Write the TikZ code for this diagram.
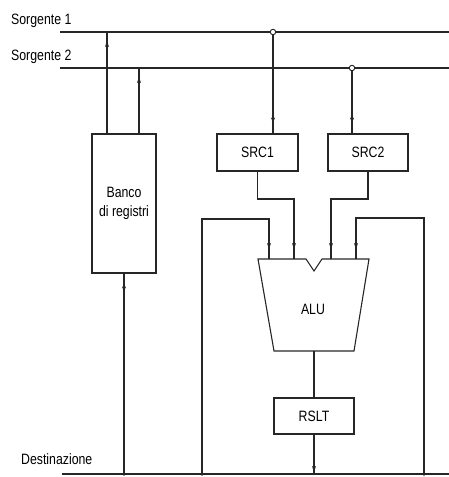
\documentclass[tikz,border=0pt]{standalone}
\usepackage{fontspec}
\setmainfont{Liberation Sans}[FakeStretch=0.82]
\usetikzlibrary{arrows.meta,decorations.markings}
\begin{document}
\begin{tikzpicture}[x=1pt,y=-1pt,
  ln/.style={draw=black!85,line width=1.1pt},
  box/.style={ln,rectangle,inner sep=0pt,align=center,font=\fontsize{15}{19}\selectfont},
  lbl/.style={inner sep=0pt,font=\fontsize{15}{18}\selectfont,anchor=west},
  arrat/.style={postaction={decorate},decoration={markings,mark=at position #1 with {\arrow{Stealth[length=6pt,width=4pt]}}}},
  hollow/.style={ln,fill=white,circle,inner sep=0pt,minimum size=5.5pt,line width=0.9pt},
  joint/.style={fill=black!85,circle,inner sep=0pt,minimum size=3.5pt}]
\useasboundingbox (0,0) rectangle (449,477);

% labels
\node[lbl] (t1) at (11,21) {Sorgente 1};
\node[lbl] (t2) at (11,57) {Sorgente 2};
\node[lbl] (t3) at (21,459) {Destinazione};

% buses
\coordinate (s1L) at (60,32);  \coordinate (s1R) at (449,32);
\coordinate (s2L) at (60,68);  \coordinate (s2R) at (449,68);
\coordinate (dL) at (62,474);  \coordinate (dR) at (449,474);
\draw[ln] (s1L) -- (s1R);
\draw[ln] (s2L) -- (s2R);
\draw[ln] (dL) -- (dR);

% boxes
\node[box,minimum width=64pt,minimum height=139pt] (banco) at (124,203.5) {Banco\\di registri};
\node[box,minimum width=81pt,minimum height=37pt] (src1) at (257.5,152.5) {SRC1};
\node[box,minimum width=80pt,minimum height=37pt] (src2) at (368,152.5) {SRC2};
\node[box,minimum width=80pt,minimum height=36pt] (rslt) at (314,416) {RSLT};

% ALU
\coordinate (aTL) at (258,259); \coordinate (aTR) at (369,259);
\coordinate (aBL) at (274,351); \coordinate (aBR) at (354,351);
\coordinate (nL) at (306,259); \coordinate (nC) at (314,271); \coordinate (nR) at (322,259);
\draw[ln,line join=miter] (aTL) -- (nL) -- (nC) -- (nR) -- (aTR) -- (aBR) -- (aBL) -- cycle;
\node[inner sep=0pt,font=\fontsize{15}{18}\selectfont] (alu) at (313,309) {ALU};
\coordinate (aluOut) at (314,351);

% register bank to sources
\coordinate (b1) at (107,134); \coordinate (b1t) at (107,32);
\coordinate (b2) at (139,134); \coordinate (b2t) at (139,68);
\draw[ln,arrat=-9pt] (b1) -- (b1t);
\draw[ln,arrat=-9pt] (b2) -- (b2t);
\coordinate (b3) at (124,474);
\draw[ln,arrat=-9pt] (b3) -- (banco.south);
\node[joint] (j1) at (b3) {};

% sources to SRC registers
\node[hollow] (c1) at (273,32) {};
\node[hollow] (c2) at (352,68) {};
\draw[ln,arrat=-10pt] (c1.south) -- (src1.north -| c1);
\draw[ln,arrat=-10pt] (c2.south) -- (src2.north -| c2);

% SRC to ALU
\coordinate (a1) at (294,259); \coordinate (a2) at (331,259);
\coordinate (a0) at (269,259); \coordinate (a3) at (356,259);
\draw[ln,arrat=-10pt] (src1.south) -- (257.5,199) -| (a1);
\draw[ln,arrat=-10pt] (src2.south) -- (368,199) -| (a2);

% feedback paths
\coordinate (f1) at (202,474); \coordinate (f2) at (424,474);
\draw[ln,arrat=-10pt] (f1) -- (202,219) -| (a0);
\draw[ln,arrat=-10pt] (f2) -- (424,218) -| (a3);
\node[joint] (j2) at (f1) {};
\node[joint] (j3) at (f2) {};

% ALU to RSLT to bus
\draw[ln] (aluOut) -- (rslt.north);
\coordinate (rb) at (314,474);
\draw[ln,arrat=-2pt] (rslt.south) -- (rb);
\end{tikzpicture}
\end{document}
